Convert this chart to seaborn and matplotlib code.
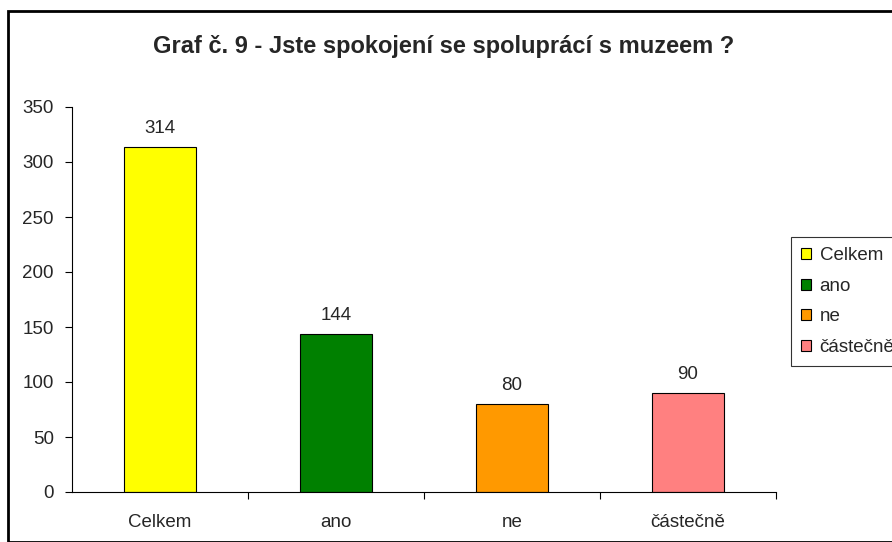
import matplotlib
matplotlib.use("Agg")
import matplotlib.pyplot as plt
import seaborn as sns
import pandas as pd
from matplotlib.patches import Rectangle, Patch

categories = ["Celkem", "ano", "ne", "částečně"]
values = [314, 144, 80, 90]
colors = ["#FFFF00", "#008000", "#FF9900", "#FF8080"]
yticks = [0, 50, 100, 150, 200, 250, 300, 350]
title = "Graf č. 9 - Jste spokojení se spoluprácí s muzeem ?"

sns.set_style("white")
plt.rcParams["font.family"] = ["Liberation Sans", "DejaVu Sans"]

FS = 13.5

df = pd.DataFrame({"cat": categories, "val": values})

fig = plt.figure(figsize=(8.92, 5.42), dpi=100)
fig.patch.set_facecolor("white")
ax = fig.add_axes([72/892, 50/542, 704/892, 385/542])

sns.barplot(data=df, x="cat", y="val", hue="cat", palette=colors, dodge=False,
            width=0.41, edgecolor="black", linewidth=0.8, legend=False, ax=ax,
            saturation=1)

ax.set_ylim(0, 350)
ax.set_xlim(-0.5, 3.5)
ax.set_yticks(yticks)
ax.set_yticklabels([str(t) for t in yticks], fontsize=FS)
ax.set_xticks([0, 1, 2, 3])
ax.set_xticklabels(categories, fontsize=FS)
ax.set_xlabel("")
ax.set_ylabel("")
for s in ["top", "right"]:
    ax.spines[s].set_visible(False)
for s in ["left", "bottom"]:
    ax.spines[s].set_color("black")
    ax.spines[s].set_linewidth(0.8)
ax.tick_params(axis="y", which="major", length=5, width=0.8, color="black", left=True, pad=8)
ax.tick_params(axis="x", which="major", length=0, pad=16)
ax.set_xticks([0.5, 1.5, 2.5, 3.5], minor=True)
ax.tick_params(axis="x", which="minor", length=5, width=0.8, color="black", bottom=True, direction="out")

for i, v in enumerate(values):
    ax.text(i, v + 9, str(v), ha="center", va="bottom", fontsize=FS)

fig.text(444/892, 1 - 46/542, title, ha="center", va="center", fontsize=17, fontweight="bold")

handles = [Patch(facecolor=c, edgecolor="black", linewidth=0.8) for c in colors]
leg = fig.legend(handles, categories, loc="upper left", bbox_to_anchor=(791/892, 1 - 237/542),
                 fontsize=FS, frameon=True, fancybox=False, handlelength=0.53, handleheight=0.53,
                 handletextpad=0.45, labelspacing=0.72, borderpad=0.55, borderaxespad=0)
leg.get_frame().set_edgecolor("black")
leg.get_frame().set_linewidth(0.8)

fig.patches.append(Rectangle((8/892, 0), 1.0, 1 - 11/542, transform=fig.transFigure,
                             fill=False, edgecolor="black", linewidth=2, clip_on=False))

fig.savefig("out.png", dpi=100)
